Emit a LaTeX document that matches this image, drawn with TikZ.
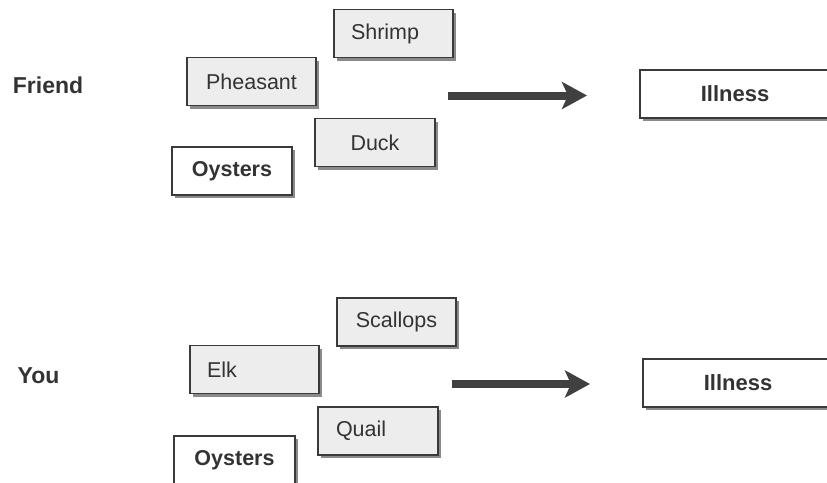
\documentclass[tikz,border=0pt]{standalone}
\usepackage{fontspec}
\setmainfont{Liberation Sans}
\usetikzlibrary{shadows,arrows.meta}
\definecolor{ink}{HTML}{333333}
\definecolor{edge}{HTML}{3A3A3A}
\definecolor{paper}{HTML}{EDEDED}
\definecolor{shade}{HTML}{8A8A8A}
\definecolor{shaft}{HTML}{404040}
\tikzset{
  food/.style={draw=edge, line width=1.3pt, fill=paper, text=ink,
    minimum width=120pt, minimum height=48pt, inner sep=0pt,
    font=\fontsize{21.5}{25}\selectfont,
    drop shadow={shadow xshift=3pt, shadow yshift=-3pt, fill=shade, opacity=1}},
  plain/.style={food, fill=white, font=\fontsize{21.5}{25}\selectfont\bfseries},
  outcome/.style={plain, minimum width=200pt, font=\fontsize{22}{26}\selectfont\bfseries},
  who/.style={text=ink, font=\fontsize{23}{27}\selectfont\bfseries, inner sep=0pt},
  leads/.style={shaft, line width=8pt,
    -{Stealth[length=25pt, width=27pt, inset=6pt]}}
}
\begin{document}
\begin{tikzpicture}[x=1pt, y=-1pt]
\useasboundingbox[fill=white] (0,0) rectangle (827,482);

% upper panel
\node[who] (friend) at (48,85) {Friend};
\node[food, minimum width=119pt, text width=103pt, align=left, inner xsep=8pt] (shrimp) at (393.5,33.5) {\hspace*{9pt}Shrimp};
\node[food, minimum width=129pt] (pheasant) at (251.5,81.5) {Pheasant};
\node[food] (duck) at (375,142.5) {Duck};
\node[plain] (oysters1) at (232,171) {Oysters};
\node[outcome] (ill1) at (740,94) {\hspace*{-10pt}Illness};
\coordinate (a1) at (448,95.5);
\coordinate (b1) at (587,95.5);
\draw[leads] (a1) -- (b1);

% lower panel
\node[who] (you) at (38.5,376) {You};
\node[food, minimum width=119pt] (scallops) at (396.5,322) {Scallops};
\node[food, minimum width=129pt, text width=113pt, align=left, inner xsep=8pt] (elk) at (254.5,369.5) {\hspace*{9pt}Elk};
\node[food, text width=104pt, align=left, inner xsep=8pt] (quail) at (378,431) {\hspace*{10pt}Quail};
\node[plain, minimum width=121pt] (oysters2) at (234.5,460) {Oysters};
\node[outcome] (ill2) at (743,383) {\hspace*{-10pt}Illness};
\coordinate (a2) at (452,384);
\coordinate (b2) at (590,384);
\draw[leads] (a2) -- (b2);
\end{tikzpicture}
\end{document}
